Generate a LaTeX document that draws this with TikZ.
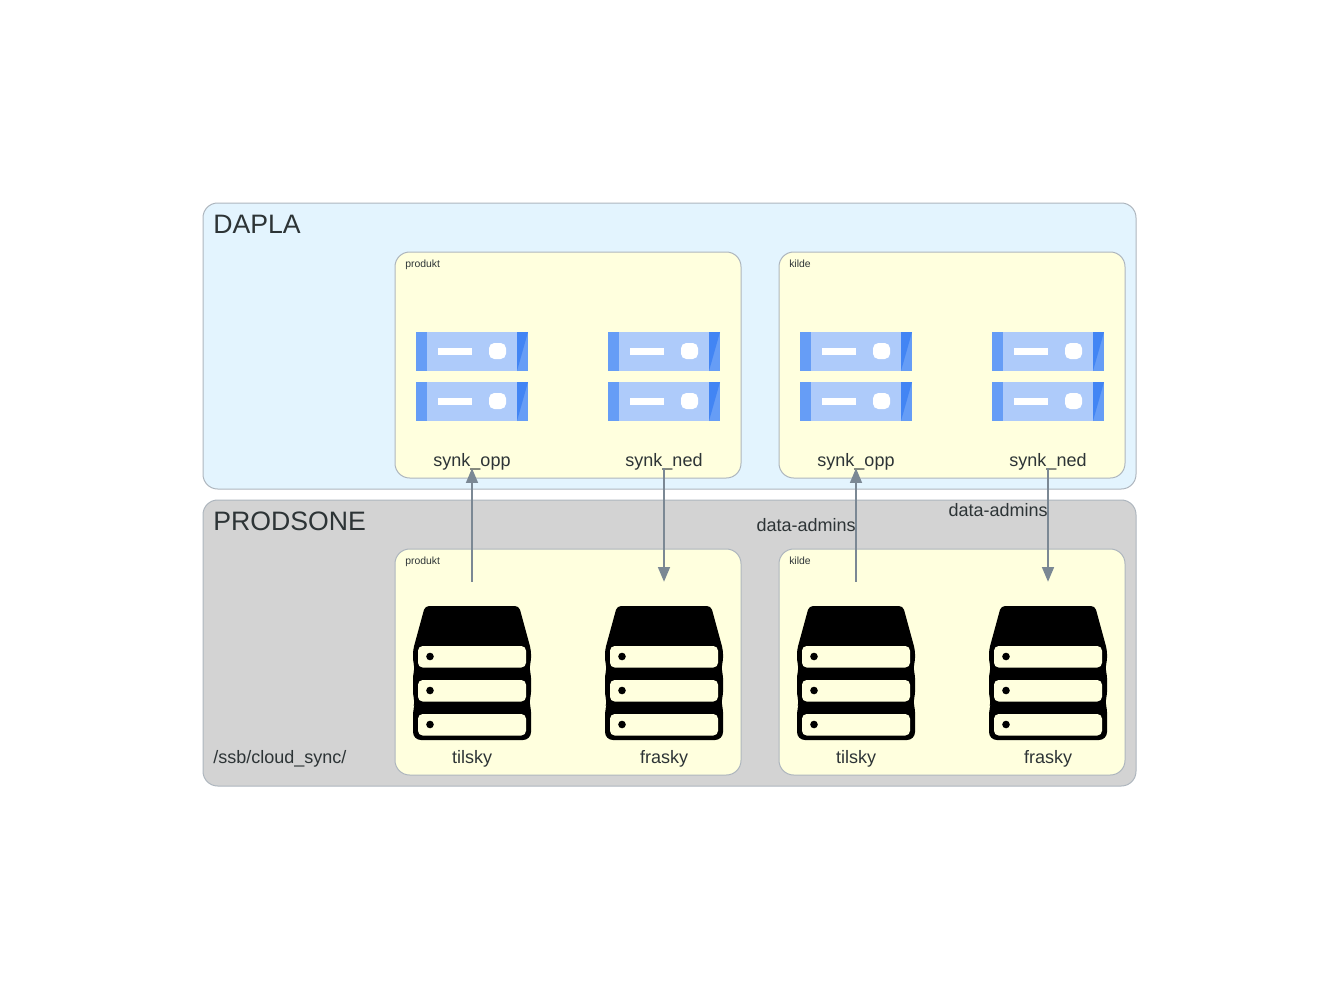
\documentclass[tikz,border=0pt]{standalone}
\usepackage{fontspec}
\setmainfont{Liberation Sans}
\usepackage{xcolor}
\usetikzlibrary{arrows.meta}
\usetikzlibrary{positioning}

\definecolor{inktext}{HTML}{2D3436}
\definecolor{edgegray}{HTML}{7B8894}
\definecolor{clusterline}{HTML}{AEB6BE}
\definecolor{daplablue}{HTML}{E3F4FE}
\definecolor{prodgray}{HTML}{D3D3D3}
\definecolor{projyellow}{HTML}{FFFFDE}
\definecolor{racklight}{HTML}{AECBFA}
\definecolor{rackmid}{HTML}{669DF6}
\definecolor{rackdark}{HTML}{4285F4}

\tikzset{
	x=0.75pt, y=-0.75pt,
	clusterbox/.style={draw=clusterline, line width=0.75pt, rounded corners=11pt, inner sep=0pt,
		minimum width=933*0.75pt, minimum height=286*0.75pt},
	projbox/.style={draw=clusterline, line width=0.75pt, fill=projyellow, rounded corners=11pt, inner sep=0pt,
		minimum width=346*0.75pt, minimum height=226*0.75pt},
	title/.style={anchor=base west, inner sep=0pt, text=inktext, font=\fontsize{20}{24}\selectfont},
	small/.style={anchor=base west, inner sep=0pt, text=inktext, font=\fontsize{7.8}{10}\selectfont},
	lbl/.style={anchor=base, inner sep=0pt, text=inktext, font=\fontsize{13.5}{16}\selectfont},
	hostbox/.style={inner sep=0pt, minimum width=112*0.75pt, minimum height=206*0.75pt},
	diskbox/.style={inner sep=0pt, minimum width=112*0.75pt, minimum height=188*0.75pt},
	flow/.style={draw=edgegray, line width=1.1pt, -{Triangle[length=11pt,width=9pt]}},
	pics/rack/.style={code={
		\fill[racklight] (-56,0) rectangle (56,39);
		\fill[rackmid] (-56,0) rectangle (-45,39);
		\fill[rackmid] (45,0) rectangle (56,39);
		\fill[rackdark] (45,0) -- (56,0) -- (45,39) -- cycle;
		\fill[white] (-34,16) rectangle (0,22.5);
		\fill[white, rounded corners=4pt] (17,11) rectangle (34,27);
	}},
	pics/diskstack/.style={code={
		\fill[black, rounded corners=3pt] (-47,0) -- (47,0) -- (59,44) -- (59,56) -- (57,62) -- (59,68)
			-- (59,90) -- (57,96) -- (59,102) [rounded corners=6pt] -- (59,134) -- (-59,134) -- (-59,102)
			[rounded corners=3pt] -- (-57,96) -- (-59,90)
			-- (-59,68) -- (-57,62) -- (-59,56) -- (-59,44) -- cycle;
		\foreach \slot in {40,74,108} {
			\fill[projyellow, rounded corners=3.5pt] (-54,\slot) rectangle (54,\slot+21.5);
			\fill[black] (-42,\slot+10.5) circle (3.8);
		}
	}},
}

\begin{document}
\begin{tikzpicture}
	\useasboundingbox (0,0) rectangle (1339,989);

	\node[clusterbox, fill=daplablue] (dapla) at (669.5,346) {};
	\node[clusterbox, fill=prodgray] (prodsone) at (669.5,643) {};

	\node[title] (daplatitle) at (213,233) {DAPLA};
	\node[title] (prodtitle) at (213,530) {PRODSONE};
	\node[lbl, anchor=base west] (syncpath) at (213,763) {/ssb/cloud\_sync/};

	% prosjekter
	\node[projbox] (produktup) at (568,365) {};
	\node[projbox] (kildeup) at (952,365) {};
	\node[projbox] (produktdown) at (568,662) {};
	\node[projbox] (kildedown) at (952,662) {};

	\node[small] (produktuptxt) at (405,267) {produkt};
	\node[small] (kildeuptxt) at (789,267) {kilde};
	\node[small] (produktdowntxt) at (405,564) {produkt};
	\node[small] (kildedowntxt) at (789,564) {kilde};

	% bøtter i begge soner
	\foreach \xpos/\name/\uplabel/\downlabel in {472/a/synk\_opp/tilsky, 664/b/synk\_ned/frasky, 856/c/synk\_opp/tilsky, 1048/d/synk\_ned/frasky} {
		\node[hostbox] (host\name) at (\xpos,365) {};
		\node[diskbox] (disk\name) at (\xpos,676) {};
		\pic at (\xpos,332) {rack};
		\pic at (\xpos,382) {rack};
		\pic at (\xpos,606) {diskstack};
		\node[lbl] (hostlbl\name) at (\xpos,466) {\uplabel};
		\node[lbl] (disklbl\name) at (\xpos,763) {\downlabel};
	}

	\draw[flow] (diska.north) -- (hosta.south);
	\draw[flow] (hostb.south) -- (diskb.north);
	\draw[flow] (diskc.north) -- (hostc.south);
	\draw[flow] (hostd.south) -- (diskd.north);

	\node[lbl, anchor=base east] (admins1) at (856,531) {data-admins};
	\node[lbl, anchor=base east] (admins2) at (1048,516) {data-admins};
\end{tikzpicture}
\end{document}
